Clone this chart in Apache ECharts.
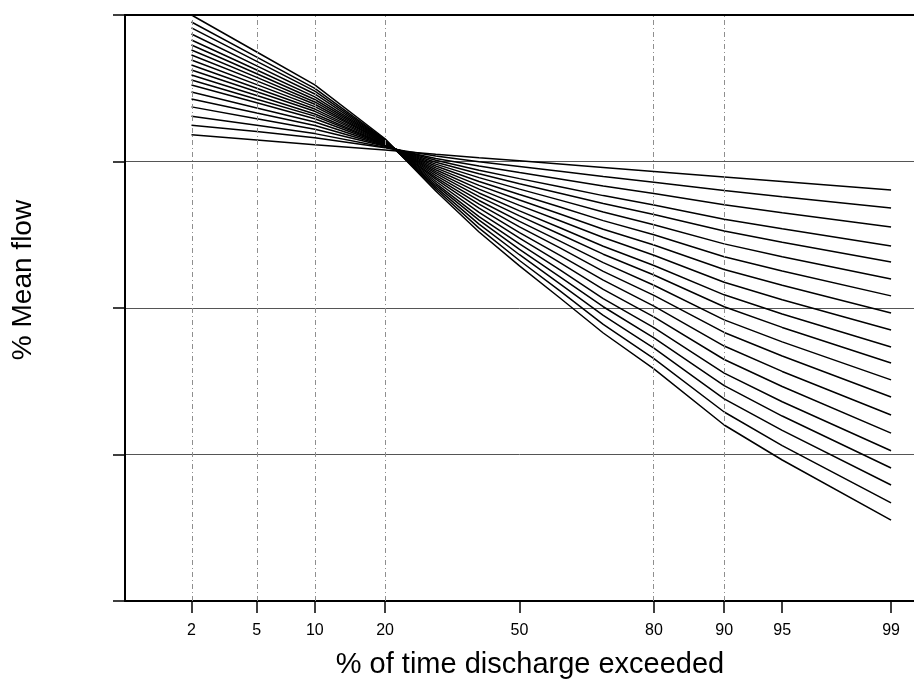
<!DOCTYPE html>
<html>
<head>
<meta charset="utf-8">
<script src="https://cdn.jsdelivr.net/npm/echarts@6/dist/echarts.min.js"></script>
<style>
html,body{margin:0;padding:0;background:#fff;}
#chart{width:914px;height:685px;}
</style>
</head>
<body>
<div id="chart"></div>
<script>
// % of time discharge exceeded (x positions of the readings)
const exceedance = [2, 5, 10, 20, 30, 40, 50, 60, 70, 80, 90, 95, 99];
// x tick labels (probability scale)
const tickPercents = [2, 5, 10, 20, 50, 80, 90, 95, 99];
// faint vertical grid lines visible in the reference
const gridPercents = [2, 5, 10, 20, 80, 90];

// % Mean flow, one array per curve (flattest to steepest)
const flow01 = [152, 140, 130, 120, 112, 106, 101, 96.1, 91.1, 85.6, 78.4, 73.0, 63.9];
const flow02 = [177, 160, 145, 124, 109, 99.7, 92.4, 85.7, 79.0, 72.2, 63.4, 57.5, 48.1];
const flow03 = [204, 177, 155, 125, 105, 93.3, 84.0, 76.0, 68.1, 60.5, 50.7, 44.7, 35.7];
const flow04 = [236, 196, 166, 127, 102, 87.1, 76.4, 67.2, 58.5, 50.5, 40.4, 34.7, 26.5];
const flow05 = [267, 214, 176, 128, 98.9, 82.5, 70.6, 60.8, 51.7, 43.5, 33.5, 28.1, 20.6];
const flow06 = [298, 232, 186, 129, 96.0, 77.6, 64.8, 54.5, 45.2, 37.0, 27.4, 22.4, 15.8];
const flow07 = [333, 252, 196, 130, 93.2, 73.0, 59.5, 48.9, 39.5, 31.6, 22.4, 17.9, 12.1];
const flow08 = [360, 266, 204, 131, 90.5, 68.7, 54.6, 43.8, 34.5, 26.9, 18.3, 14.3, 9.24];
const flow09 = [389, 282, 211, 132, 87.8, 64.8, 50.2, 39.4, 30.3, 22.9, 15.0, 11.4, 7.08];
const flow10 = [421, 299, 220, 133, 85.2, 61.0, 46.0, 35.3, 26.4, 19.5, 12.3, 9.09, 5.42];
const flow11 = [456, 316, 228, 134, 82.9, 57.6, 42.5, 31.9, 23.3, 16.8, 10.2, 7.37, 4.21];
const flow12 = [493, 335, 237, 135, 80.4, 54.2, 39.0, 28.6, 20.4, 14.3, 8.30, 5.87, 3.23];
const flow13 = [533, 355, 246, 135, 78.0, 51.1, 35.8, 25.7, 17.8, 12.2, 6.81, 4.70, 2.47];
const flow14 = [577, 375, 255, 136, 75.7, 48.0, 32.7, 22.9, 15.5, 10.3, 5.50, 3.69, 1.86];
const flow15 = [624, 397, 265, 137, 73.3, 44.9, 30.0, 20.4, 13.4, 8.71, 4.45, 2.91, 1.40];
const flow16 = [675, 421, 276, 138, 71.0, 42.1, 27.4, 18.2, 11.6, 7.34, 3.59, 2.29, 1.06];
const flow17 = [742, 450, 289, 139, 68.9, 39.8, 25.1, 16.3, 10.2, 6.26, 2.95, 1.83, 0.809];
const flow18 = [816, 483, 302, 140, 66.9, 37.4, 23.1, 14.6, 8.90, 5.32, 2.40, 1.46, 0.619];
const flow19 = [896, 516, 316, 141, 64.9, 35.1, 21.1, 13.1, 7.73, 4.51, 1.95, 1.15, 0.467];
const flow20 = [1000, 559, 333, 143, 62.9, 33.0, 19.4, 11.7, 6.75, 3.84, 1.59, 0.917, 0.357];

const curves = [flow01, flow02, flow03, flow04, flow05, flow06, flow07, flow08, flow09, flow10,
                flow11, flow12, flow13, flow14, flow15, flow16, flow17, flow18, flow19, flow20];

// Normal probability (probit) transform for the probability-scaled x axis
function probit(p) {
  const a = [-3.969683028665376e+01, 2.209460984245205e+02, -2.759285104469687e+02, 1.383577518672690e+02, -3.066479806614716e+01, 2.506628277459239e+00];
  const b = [-5.447609879822406e+01, 1.615858368580409e+02, -1.556989798598866e+02, 6.680131188771972e+01, -1.328068155288572e+01];
  const c = [-7.784894002430293e-03, -3.223964580411365e-01, -2.400758277161838e+00, -2.549732516148054e+00, 4.374664141464968e+00, 2.938163982698783e+00];
  const d = [7.784695709041462e-03, 3.224671290700398e-01, 2.445134137142996e+00, 3.754408661907416e+00];
  const plow = 0.02425, phigh = 1 - plow;
  let q, r;
  if (p < plow) {
    q = Math.sqrt(-2 * Math.log(p));
    return (((((c[0]*q+c[1])*q+c[2])*q+c[3])*q+c[4])*q+c[5]) / ((((d[0]*q+d[1])*q+d[2])*q+d[3])*q+1);
  } else if (p <= phigh) {
    q = p - 0.5; r = q*q;
    return (((((a[0]*r+a[1])*r+a[2])*r+a[3])*r+a[4])*r+a[5])*q / (((((b[0]*r+b[1])*r+b[2])*r+b[3])*r+b[4])*r+1);
  } else {
    q = Math.sqrt(-2 * Math.log(1 - p));
    return -(((((c[0]*q+c[1])*q+c[2])*q+c[3])*q+c[4])*q+c[5]) / ((((d[0]*q+d[1])*q+d[2])*q+d[3])*q+1);
  }
}

const xz = exceedance.map(p => probit(p / 100));
const tickZ = tickPercents.map(p => probit(p / 100));
const FONT = '"Liberation Sans", Arial, Helvetica, sans-serif';

const series = curves.map((vals, i) => {
  const s = {
    type: 'line',
    data: vals.map((v, j) => [xz[j], v]),
    showSymbol: false,
    symbol: 'none',
    silent: true,
    lineStyle: { color: '#000', width: 1.5 },
    z: 3
  };
  if (i === 0) {
    s.markLine = {
      silent: true,
      symbol: ['none', 'none'],
      label: { show: false },
      lineStyle: { color: '#8f8f8f', width: 1, type: [5, 3, 1, 3] },
      data: gridPercents.map(p => ({ xAxis: probit(p / 100) })),
      animation: false
    };
  }
  return s;
});

const chart = echarts.init(document.getElementById('chart'), null, { renderer: 'canvas' });
chart.setOption({
  animation: false,
  backgroundColor: '#ffffff',
  grid: { left: 125, right: 0, top: 15, bottom: 84, containLabel: false },
  xAxis: [
    {
      type: 'value',
      min: -2.47, max: 2.47,
      axisLine: { show: true, onZero: false, lineStyle: { color: '#000', width: 2 } },
      axisTick: { show: true, length: 12, lineStyle: { color: '#000', width: 1.5 }, customValues: tickZ },
      axisLabel: {
        show: true, customValues: tickZ, margin: 22,
        color: '#000', fontSize: 16, fontFamily: FONT,
        formatter: function (v) {
          for (let i = 0; i < tickZ.length; i++) {
            if (Math.abs(tickZ[i] - v) < 1e-6) return String(tickPercents[i]);
          }
          return '';
        }
      },
      splitLine: { show: false }
    },
    {
      type: 'value',
      position: 'top',
      min: -2.47, max: 2.47,
      axisLine: { show: true, onZero: false, lineStyle: { color: '#000', width: 2 } },
      axisTick: { show: false },
      axisLabel: { show: false },
      splitLine: { show: false }
    }
  ],
  yAxis: {
    type: 'log',
    logBase: 10,
    min: 0.1, max: 1000,
    position: 'left',
    axisLine: { show: true, onZero: false, lineStyle: { color: '#000', width: 2 } },
    axisTick: { show: true, inside: false, length: 12, lineStyle: { color: '#000', width: 1.5 } },
    axisLabel: { show: false },
    splitLine: { show: true, lineStyle: { color: '#555', width: 1 } }
  },
  graphic: [
    {
      type: 'text', x: 23, y: 280, rotation: Math.PI / 2,
      style: { text: '% Mean flow', fill: '#000', fontSize: 28, fontFamily: FONT, align: 'center', verticalAlign: 'middle' }
    },
    {
      type: 'text', x: 530, y: 665,
      style: { text: '% of time discharge exceeded', fill: '#000', fontSize: 29, fontFamily: FONT, align: 'center', verticalAlign: 'middle' }
    }
  ],
  series: series
});
</script>
</body>
</html>
